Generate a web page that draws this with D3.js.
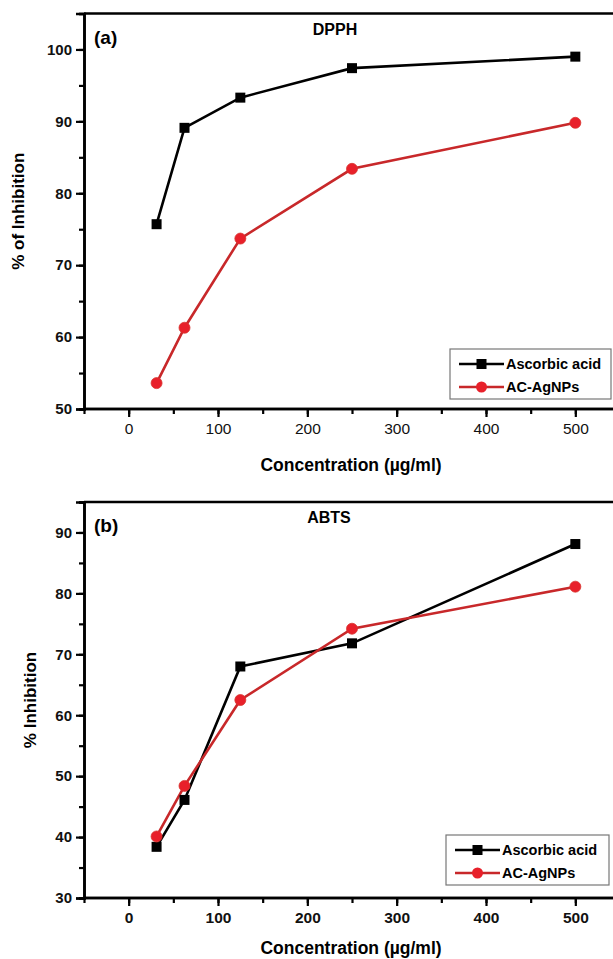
<!DOCTYPE html>
<html><head><meta charset="utf-8">
<script src="https://cdn.jsdelivr.net/npm/d3@7"></script>
<style>body{margin:0;background:#fff}svg{display:block}text{font-family:"Liberation Sans",Arial,sans-serif}</style>
</head><body><svg id="c" width="613" height="959"></svg>
<script>
const concentrations = [31.25, 62.5, 125, 250, 500];
const dpphAscorbic = [75.7, 89.1, 93.3, 97.4, 99.0];
const dpphAgNPs = [53.6, 61.3, 73.7, 83.4, 89.8];
const abtsAscorbic = [38.4, 46.1, 68.0, 71.8, 88.1];
const abtsAgNPs = [40.1, 48.4, 62.5, 74.2, 81.1];
const xTicks = [0, 100, 200, 300, 400, 500];
const seriesNames = ["Ascorbic acid", "AC-AgNPs"];

const svg = d3.select("#c");
const BLACK = "#000", RED_LINE = "#c8282a", RED_FILL = "#e8202a";

function panel(o) {
  const g = svg.append("g");
  const x = d3.scaleLinear().domain([-50, 550]).range([84, 620]);
  const y = d3.scaleLinear().domain(o.yDomain).range([o.bottom, o.top]);
  g.append("line").attr("x1", 84).attr("x2", 620).attr("y1", o.top).attr("y2", o.top)
    .attr("stroke", "#000").attr("stroke-width", 2.6);
  g.append("line").attr("x1", 620).attr("x2", 620).attr("y1", o.top).attr("y2", o.bottom)
    .attr("stroke", "#000").attr("stroke-width", 2.6);
  const ax = g.append("g").attr("transform", `translate(0,${o.bottom})`)
    .call(d3.axisBottom(x).tickValues(d3.range(-50, 551, 50)).tickSize(5).tickFormat(""));
  const axMaj = g.append("g").attr("transform", `translate(0,${o.bottom})`)
    .call(d3.axisBottom(x).tickValues(xTicks).tickSize(8).tickPadding(6).tickFormat(d3.format("d")));
  const ay = g.append("g").attr("transform", `translate(84,0)`)
    .call(d3.axisLeft(y).tickValues(d3.range(o.yDomain[0], o.yDomain[1] + 0.1, 5)).tickSize(5).tickFormat(""));
  const ayMaj = g.append("g").attr("transform", `translate(84,0)`)
    .call(d3.axisLeft(y).tickValues(o.yTicks).tickSize(8).tickPadding(4).tickFormat(d3.format("d")));
  [ax, axMaj, ay, ayMaj].forEach(a => {
    a.select(".domain").attr("stroke-width", 2.6).attr("stroke", "#000");
    a.selectAll(".tick line").attr("stroke-width", 2.2).attr("stroke", "#000");
  });
  ax.select(".domain").attr("d", `M84,0H620`);
  axMaj.select(".domain").attr("d", `M84,0H620`);
  axMaj.selectAll("text").attr("font-size", 15.5).attr("fill", "#111")
    .attr("font-weight", o.xBold ? "bold" : "normal");
  ayMaj.selectAll("text").attr("font-size", 15).attr("font-weight", "bold").attr("fill", "#111");

  const line = d3.line().x((d, i) => x(concentrations[i])).y(d => y(d));
  g.append("path").datum(o.s1).attr("d", line).attr("fill", "none").attr("stroke", BLACK).attr("stroke-width", 2.6);
  g.append("path").datum(o.s2).attr("d", line).attr("fill", "none").attr("stroke", RED_LINE).attr("stroke-width", 2.6);
  g.selectAll(".sq").data(o.s1).enter().append("rect")
    .attr("x", (d, i) => x(concentrations[i]) - 5).attr("y", d => y(d) - 5)
    .attr("width", 10).attr("height", 10).attr("fill", BLACK);
  g.selectAll(".ci").data(o.s2).enter().append("circle")
    .attr("cx", (d, i) => x(concentrations[i])).attr("cy", d => y(d)).attr("r", 5.5)
    .attr("fill", RED_FILL).attr("stroke", "#d8332f").attr("stroke-width", 0.8);

  g.append("text").attr("x", 94).attr("y", o.top + 30).attr("font-size", 19).attr("font-weight", "bold").text(o.tag);
  g.append("text").attr("x", o.titleX).attr("y", o.top + 21).attr("text-anchor", "middle")
    .attr("font-size", 16).attr("font-weight", "bold").text(o.title);
  g.append("text").attr("transform", `translate(${o.yLabX},${(o.top + o.bottom) / 2}) rotate(-90)`)
    .attr("text-anchor", "middle").attr("font-size", 17).attr("font-weight", "bold").text(o.yLabel);
  g.append("text").attr("x", 351).attr("y", o.xLabY).attr("text-anchor", "middle")
    .attr("font-size", 17.5).attr("font-weight", "bold").text("Concentration (µg/ml)");

  const L = o.legend;
  g.append("rect").attr("x", L.x).attr("y", L.y).attr("width", L.w).attr("height", 50)
    .attr("fill", "#fff").attr("stroke", "#777").attr("stroke-width", 1.2);
  seriesNames.forEach((name, i) => {
    const yy = L.y + 15 + i * 23;
    g.append("line").attr("x1", L.x + 9).attr("x2", L.x + 54).attr("y1", yy).attr("y2", yy)
      .attr("stroke", i ? RED_LINE : BLACK).attr("stroke-width", 2.6);
    if (i === 0) g.append("rect").attr("x", L.x + 31.5 - 5).attr("y", yy - 5).attr("width", 10).attr("height", 10).attr("fill", BLACK);
    else g.append("circle").attr("cx", L.x + 31.5).attr("cy", yy).attr("r", 5.5).attr("fill", RED_FILL);
    g.append("text").attr("x", L.x + 56).attr("y", yy + 5).attr("font-size", 14.5)
      .attr("font-weight", "bold").text(name);
  });
}

panel({top: 13.5, bottom: 409, yDomain: [50, 105], yTicks: [50, 60, 70, 80, 90, 100],
  s1: dpphAscorbic, s2: dpphAgNPs, tag: "(a)", title: "DPPH", titleX: 335,
  yLabel: "% of Inhibition", yLabX: 24, xLabY: 471, xBold: false,
  legend: {x: 450, y: 349, w: 161}});
panel({top: 502, bottom: 898, yDomain: [30, 95], yTicks: [30, 40, 50, 60, 70, 80, 90],
  s1: abtsAscorbic, s2: abtsAgNPs, tag: "(b)", title: "ABTS", titleX: 329,
  yLabel: "% Inhibition", yLabX: 36, xLabY: 954, xBold: true,
  legend: {x: 446, y: 835, w: 163}});
</script></body></html>
